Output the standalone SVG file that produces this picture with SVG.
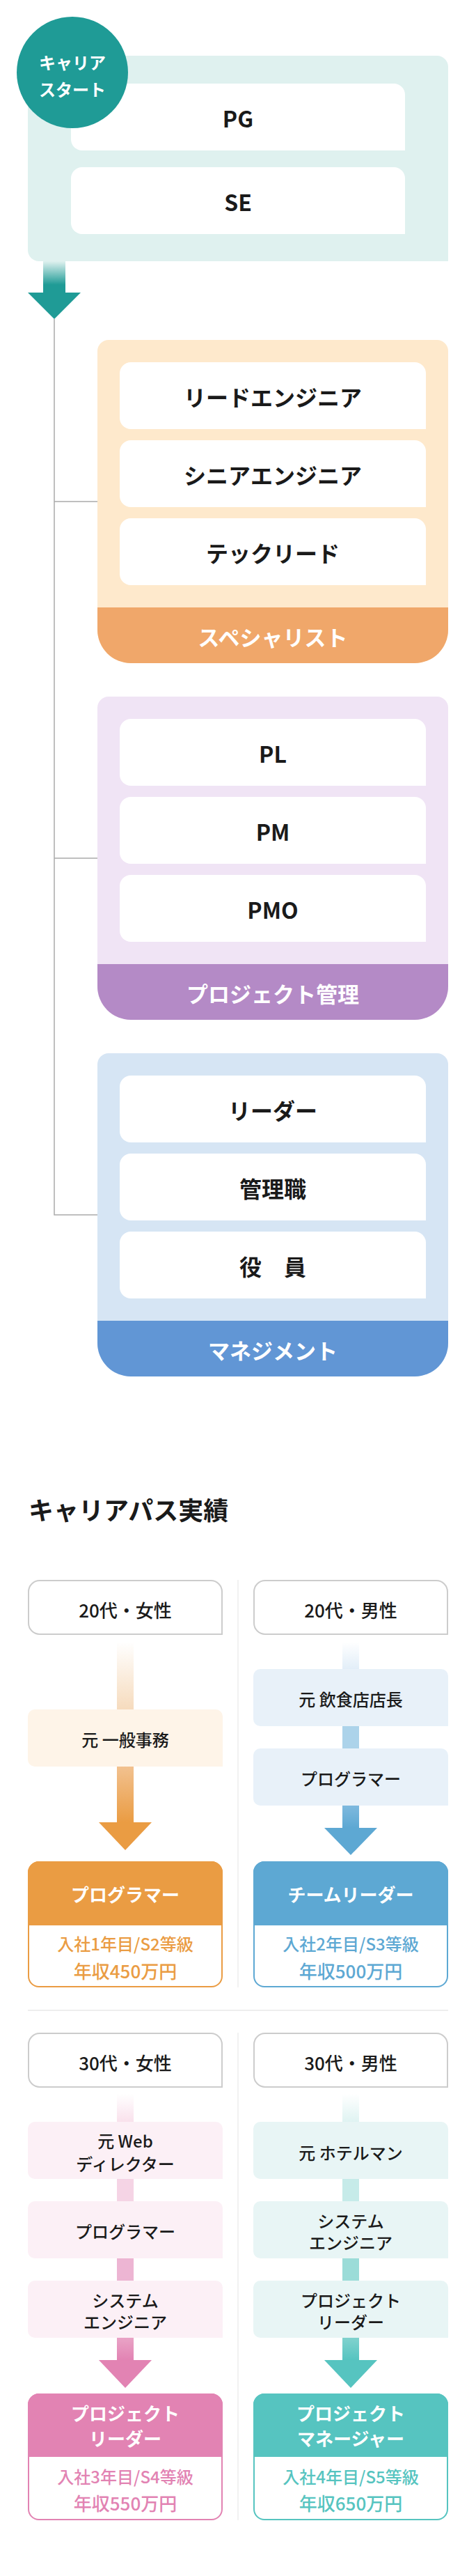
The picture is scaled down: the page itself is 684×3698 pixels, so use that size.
<svg xmlns="http://www.w3.org/2000/svg" width="684" height="3698" viewBox="0 0 684 3698">
<defs>
<style>
text{font-family:"Noto Sans CJK JP","Noto Sans",sans-serif;text-anchor:middle;dominant-baseline:central}
.nt{font-size:32px;font-weight:700;fill:#1a1a1a}
.ft{font-size:31px;font-weight:700;fill:#fff}
.ct{font-size:24px;font-weight:700;fill:#fff}
.hd{font-size:26px;font-weight:500;fill:#1a1a1a}
.st{font-size:24px;font-weight:500;fill:#1a1a1a}
.rh{font-size:26px;font-weight:700;fill:#fff}
.r1{font-size:24px;font-weight:500}
.r2{font-size:26px;font-weight:500}
.wb{fill:#fff}
.hbox{fill:#fff;stroke:#cccccc;stroke-width:2}
.conn{fill:none;stroke:#aaaaaa;stroke-width:1.5}
.div{stroke:#eeeeee;stroke-width:1.5}
</style>
<linearGradient id="gTeal" x1="0" y1="0" x2="0" y2="1"><stop offset="0" stop-color="#dff1ef"/><stop offset="0.75" stop-color="#1f9b96"/><stop offset="1" stop-color="#1f9b96"/></linearGradient>
<linearGradient id="gO1" x1="0" y1="0" x2="0" y2="1"><stop offset="0" stop-color="#ffffff"/><stop offset="1" stop-color="#f6dbbd"/></linearGradient>
<linearGradient id="gO2" x1="0" y1="0" x2="0" y2="1"><stop offset="0" stop-color="#f2c18f"/><stop offset="1" stop-color="#ea9c43"/></linearGradient>
<linearGradient id="gB1" x1="0" y1="0" x2="0" y2="1"><stop offset="0" stop-color="#ffffff"/><stop offset="1" stop-color="#e2eef8"/></linearGradient>
<linearGradient id="gB2" x1="0" y1="0" x2="0" y2="1"><stop offset="0" stop-color="#7eb9de"/><stop offset="1" stop-color="#5da8d3"/></linearGradient>
<linearGradient id="gP1" x1="0" y1="0" x2="0" y2="1"><stop offset="0" stop-color="#ffffff"/><stop offset="1" stop-color="#f9e1ec"/></linearGradient>
<linearGradient id="gP2" x1="0" y1="0" x2="0" y2="1"><stop offset="0" stop-color="#e9a3c6"/><stop offset="1" stop-color="#e283b3"/></linearGradient>
<linearGradient id="gT1" x1="0" y1="0" x2="0" y2="1"><stop offset="0" stop-color="#ffffff"/><stop offset="1" stop-color="#dff3f2"/></linearGradient>
<linearGradient id="gT2" x1="0" y1="0" x2="0" y2="1"><stop offset="0" stop-color="#80d2ce"/><stop offset="1" stop-color="#56c4c0"/></linearGradient>
</defs>

<!-- ===== Section 1 ===== -->
<g id="connectors">
<rect x="62" y="375" width="32" height="45" fill="url(#gTeal)"/>
<polygon points="40,420 116,420 78,458" fill="#1f9b96"/>
<path class="conn" d="M78,458 V1744 H140 M78,720 H140 M78,1232 H140"/>
</g>

<g id="start">
<path d="M56,80 H628 A16 16 0 0 1 644,96 V375 H56 A16 16 0 0 1 40,359 V96 A16 16 0 0 1 56,80 Z" fill="#dff1ef"/>
<g id="node-pg">
<path class="wb" d="M118,120 H566 A16 16 0 0 1 582,136 V216 H118 A16 16 0 0 1 102,200 V136 A16 16 0 0 1 118,120 Z"/>
<text class="nt" x="342" y="169">PG</text>
</g>
<g id="node-se">
<path class="wb" d="M118,240 H566 A16 16 0 0 1 582,256 V336 H118 A16 16 0 0 1 102,320 V256 A16 16 0 0 1 118,240 Z"/>
<text class="nt" x="342" y="289">SE</text>
</g>
<g id="start-badge">
<circle cx="104" cy="104" r="80" fill="#1f9b96"/>
<text class="ct" x="104" y="88">キャリア</text>
<text class="ct" x="104" y="127">スタート</text>
</g>
</g>

<g id="specialist">
<path d="M156,488 H628 A16 16 0 0 1 644,504 V904 A48 48 0 0 1 596,952 H188 A48 48 0 0 1 140,904 V504 A16 16 0 0 1 156,488 Z" fill="#fee9cc"/>
<path d="M140,872 H644 V904 A48 48 0 0 1 596,952 H188 A48 48 0 0 1 140,904 Z" fill="#f0a76a"/>
<path class="wb" d="M188,520 H596 A16 16 0 0 1 612,536 V616 H188 A16 16 0 0 1 172,600 V536 A16 16 0 0 1 188,520 Z"/>
<path class="wb" d="M188,632 H596 A16 16 0 0 1 612,648 V728 H188 A16 16 0 0 1 172,712 V648 A16 16 0 0 1 188,632 Z"/>
<path class="wb" d="M188,744 H596 A16 16 0 0 1 612,760 V840 H188 A16 16 0 0 1 172,824 V760 A16 16 0 0 1 188,744 Z"/>
<text class="nt" x="392" y="569">リードエンジニア</text>
<text class="nt" x="392" y="681">シニアエンジニア</text>
<text class="nt" x="392" y="793">テックリード</text>
<text class="ft" x="392" y="913">スペシャリスト</text>
</g>

<g id="project">
<path d="M156,1000 H628 A16 16 0 0 1 644,1016 V1416 A48 48 0 0 1 596,1464 H188 A48 48 0 0 1 140,1416 V1016 A16 16 0 0 1 156,1000 Z" fill="#f0e4f5"/>
<path d="M140,1384 H644 V1416 A48 48 0 0 1 596,1464 H188 A48 48 0 0 1 140,1416 Z" fill="#b48ac6"/>
<path class="wb" d="M188,1032 H596 A16 16 0 0 1 612,1048 V1128 H188 A16 16 0 0 1 172,1112 V1048 A16 16 0 0 1 188,1032 Z"/>
<path class="wb" d="M188,1144 H596 A16 16 0 0 1 612,1160 V1240 H188 A16 16 0 0 1 172,1224 V1160 A16 16 0 0 1 188,1144 Z"/>
<path class="wb" d="M188,1256 H596 A16 16 0 0 1 612,1272 V1352 H188 A16 16 0 0 1 172,1336 V1272 A16 16 0 0 1 188,1256 Z"/>
<text class="nt" x="392" y="1081">PL</text>
<text class="nt" x="392" y="1193">PM</text>
<text class="nt" x="392" y="1305">PMO</text>
<text class="ft" x="392" y="1425">プロジェクト管理</text>
</g>

<g id="management">
<path d="M156,1512 H628 A16 16 0 0 1 644,1528 V1928 A48 48 0 0 1 596,1976 H188 A48 48 0 0 1 140,1928 V1528 A16 16 0 0 1 156,1512 Z" fill="#d6e5f4"/>
<path d="M140,1896 H644 V1928 A48 48 0 0 1 596,1976 H188 A48 48 0 0 1 140,1928 Z" fill="#6196d5"/>
<path class="wb" d="M188,1544 H596 A16 16 0 0 1 612,1560 V1640 H188 A16 16 0 0 1 172,1624 V1560 A16 16 0 0 1 188,1544 Z"/>
<path class="wb" d="M188,1656 H596 A16 16 0 0 1 612,1672 V1752 H188 A16 16 0 0 1 172,1736 V1672 A16 16 0 0 1 188,1656 Z"/>
<path class="wb" d="M188,1768 H596 A16 16 0 0 1 612,1784 V1864 H188 A16 16 0 0 1 172,1848 V1784 A16 16 0 0 1 188,1768 Z"/>
<text class="nt" x="392" y="1593">リーダー</text>
<text class="nt" x="392" y="1705">管理職</text>
<text class="nt" x="392" y="1817">役　員</text>
<text class="ft" x="392" y="1937">マネジメント</text>
</g>

<!-- ===== Section 2 ===== -->
<text x="41" y="2166" style="text-anchor:start;font-size:36px;font-weight:700;fill:#1a1a1a">キャリアパス実績</text>

<g id="dividers">
<line class="div" x1="342" y1="2268" x2="342" y2="2853"/>
<line x1="40" y1="2886" x2="644" y2="2886" stroke="#eeeeee" stroke-width="2"/>
<line class="div" x1="342" y1="2918" x2="342" y2="3618"/>
</g>

<g id="case-20f">
<path class="hbox" d="M57,2269 H303 A16 16 0 0 1 319,2285 V2346 H57 A16 16 0 0 1 41,2330 V2285 A16 16 0 0 1 57,2269 Z"/>
<text class="hd" x="180" y="2310">20代・女性</text>
<rect x="168" y="2357" width="24" height="97" fill="url(#gO1)"/>
<path d="M50,2454 H310 A10 10 0 0 1 320,2464 V2536 H50 A10 10 0 0 1 40,2526 V2464 A10 10 0 0 1 50,2454 Z" fill="#fef4e8"/>
<text class="st" x="180" y="2496">元 一般事務</text>
<rect x="168" y="2536" width="24" height="80" fill="url(#gO2)"/>
<polygon points="142,2616 218,2616 180,2656" fill="#ea9c43"/>
<rect x="41" y="2673" width="278" height="179" rx="15" fill="#fff" stroke="#ea9c43" stroke-width="2"/>
<path d="M40,2688 A16 16 0 0 1 56,2672 H304 A16 16 0 0 1 320,2688 V2764 H40 Z" fill="#ea9c43"/>
<text class="rh" x="180" y="2718">プログラマー</text>
<text class="r1" x="180" y="2789" fill="#ea9c43">入社1年目/S2等級</text>
<text class="r2" x="180" y="2828" fill="#ea9c43">年収450万円</text>
</g>

<g id="case-20m">
<path class="hbox" d="M381,2269 H627 A16 16 0 0 1 643,2285 V2346 H381 A16 16 0 0 1 365,2330 V2285 A16 16 0 0 1 381,2269 Z"/>
<text class="hd" x="504" y="2310">20代・男性</text>
<rect x="492" y="2357" width="24" height="39" fill="url(#gB1)"/>
<path d="M374,2396 H634 A10 10 0 0 1 644,2406 V2478 H374 A10 10 0 0 1 364,2468 V2406 A10 10 0 0 1 374,2396 Z" fill="#e8f1f9"/>
<text class="st" x="504" y="2438">元 飲食店店長</text>
<rect x="492" y="2478" width="24" height="32" fill="#acd3ea"/>
<path d="M374,2510 H634 A10 10 0 0 1 644,2520 V2592 H374 A10 10 0 0 1 364,2582 V2520 A10 10 0 0 1 374,2510 Z" fill="#e8f1f9"/>
<text class="st" x="504" y="2552">プログラマー</text>
<rect x="492" y="2592" width="24" height="32" fill="url(#gB2)"/>
<polygon points="466,2624 542,2624 504,2663" fill="#5da8d3"/>
<rect x="365" y="2673" width="278" height="179" rx="15" fill="#fff" stroke="#5da8d3" stroke-width="2"/>
<path d="M364,2688 A16 16 0 0 1 380,2672 H628 A16 16 0 0 1 644,2688 V2764 H364 Z" fill="#5da8d3"/>
<text class="rh" x="504" y="2718">チームリーダー</text>
<text class="r1" x="504" y="2789" fill="#5da8d3">入社2年目/S3等級</text>
<text class="r2" x="504" y="2828" fill="#5da8d3">年収500万円</text>
</g>

<g id="case-30f">
<path class="hbox" d="M57,2919 H303 A16 16 0 0 1 319,2935 V2996 H57 A16 16 0 0 1 41,2980 V2935 A16 16 0 0 1 57,2919 Z"/>
<text class="hd" x="180" y="2960">30代・女性</text>
<rect x="168" y="3006" width="24" height="40" fill="url(#gP1)"/>
<path d="M50,3046 H310 A10 10 0 0 1 320,3056 V3128 H50 A10 10 0 0 1 40,3118 V3056 A10 10 0 0 1 50,3046 Z" fill="#fcf0f6"/>
<text class="st" x="180" y="3072">元 Web</text>
<text class="st" x="180" y="3105">ディレクター</text>
<rect x="168" y="3128" width="24" height="32" fill="#f5d4e5"/>
<path d="M50,3160 H310 A10 10 0 0 1 320,3170 V3242 H50 A10 10 0 0 1 40,3232 V3170 A10 10 0 0 1 50,3160 Z" fill="#fcf0f6"/>
<text class="st" x="180" y="3202">プログラマー</text>
<rect x="168" y="3242" width="24" height="32" fill="#edb5d3"/>
<path d="M50,3274 H310 A10 10 0 0 1 320,3284 V3356 H50 A10 10 0 0 1 40,3346 V3284 A10 10 0 0 1 50,3274 Z" fill="#fcf0f6"/>
<text class="st" x="180" y="3301">システム</text>
<text class="st" x="180" y="3332">エンジニア</text>
<rect x="168" y="3356" width="24" height="32" fill="url(#gP2)"/>
<polygon points="142,3388 218,3388 180,3428" fill="#e283b3"/>
<rect x="41" y="3437" width="278" height="180" rx="15" fill="#fff" stroke="#e283b3" stroke-width="2"/>
<path d="M40,3452 A16 16 0 0 1 56,3436 H304 A16 16 0 0 1 320,3452 V3527 H40 Z" fill="#e283b3"/>
<text class="rh" x="180" y="3463">プロジェクト</text>
<text class="rh" x="180" y="3499">リーダー</text>
<text class="r1" x="180" y="3554" fill="#e283b3">入社3年目/S4等級</text>
<text class="r2" x="180" y="3592" fill="#e283b3">年収550万円</text>
</g>

<g id="case-30m">
<path class="hbox" d="M381,2919 H627 A16 16 0 0 1 643,2935 V2996 H381 A16 16 0 0 1 365,2980 V2935 A16 16 0 0 1 381,2919 Z"/>
<text class="hd" x="504" y="2960">30代・男性</text>
<rect x="492" y="3006" width="24" height="40" fill="url(#gT1)"/>
<path d="M374,3046 H634 A10 10 0 0 1 644,3056 V3128 H374 A10 10 0 0 1 364,3118 V3056 A10 10 0 0 1 374,3046 Z" fill="#e8f5f5"/>
<text class="st" x="504" y="3089">元 ホテルマン</text>
<rect x="492" y="3128" width="24" height="32" fill="#c6ebe9"/>
<path d="M374,3160 H634 A10 10 0 0 1 644,3170 V3242 H374 A10 10 0 0 1 364,3232 V3170 A10 10 0 0 1 374,3160 Z" fill="#e8f5f5"/>
<text class="st" x="504" y="3187">システム</text>
<text class="st" x="504" y="3218">エンジニア</text>
<rect x="492" y="3242" width="24" height="32" fill="#9bdcd8"/>
<path d="M374,3274 H634 A10 10 0 0 1 644,3284 V3356 H374 A10 10 0 0 1 364,3346 V3284 A10 10 0 0 1 374,3274 Z" fill="#e8f5f5"/>
<text class="st" x="504" y="3301">プロジェクト</text>
<text class="st" x="504" y="3332">リーダー</text>
<rect x="492" y="3356" width="24" height="32" fill="url(#gT2)"/>
<polygon points="466,3388 542,3388 504,3428" fill="#56c4c0"/>
<rect x="365" y="3437" width="278" height="180" rx="15" fill="#fff" stroke="#56c4c0" stroke-width="2"/>
<path d="M364,3452 A16 16 0 0 1 380,3436 H628 A16 16 0 0 1 644,3452 V3527 H364 Z" fill="#56c4c0"/>
<text class="rh" x="504" y="3463">プロジェクト</text>
<text class="rh" x="504" y="3499">マネージャー</text>
<text class="r1" x="504" y="3554" fill="#56c4c0">入社4年目/S5等級</text>
<text class="r2" x="504" y="3592" fill="#56c4c0">年収650万円</text>
</g>
</svg>
